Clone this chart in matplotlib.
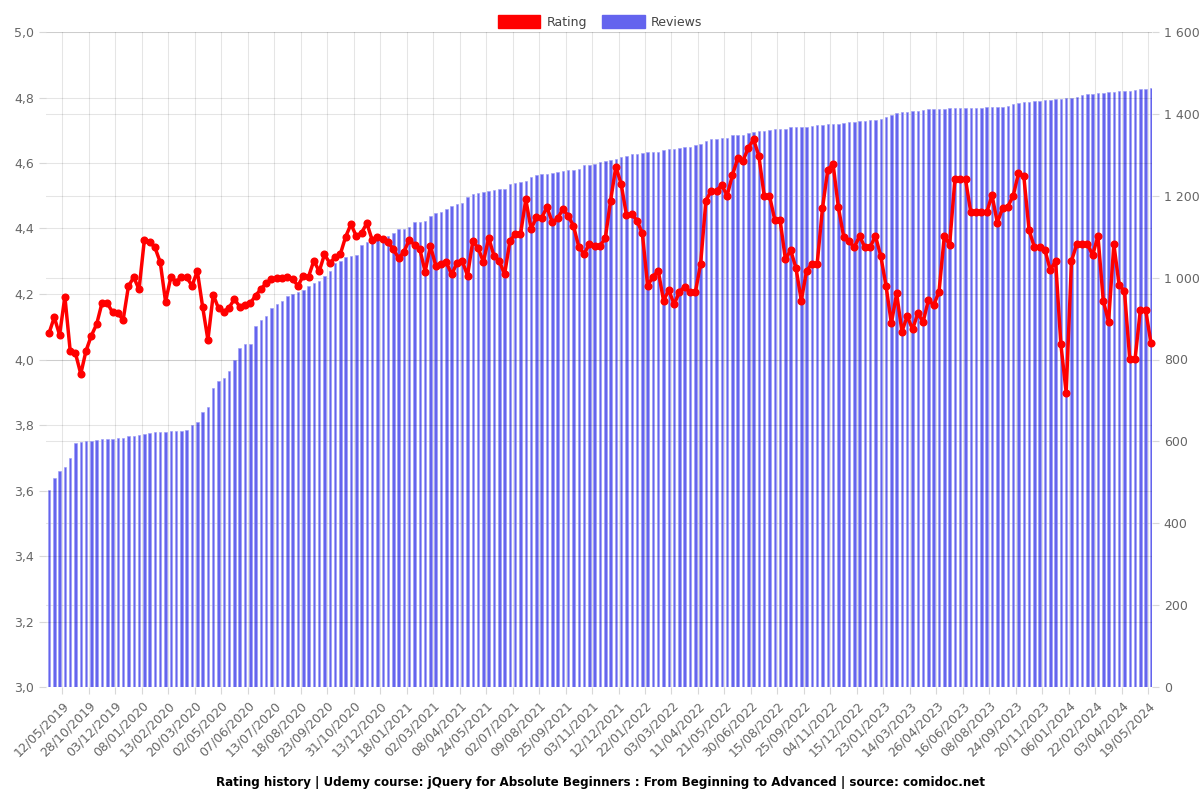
import numpy as np
import matplotlib
matplotlib.use("Agg")
import matplotlib.pyplot as plt
from matplotlib.patches import Patch
from matplotlib.ticker import FuncFormatter, MultipleLocator

# Données (une valeur par semaine environ)
ratings = [
    4.080, 4.129, 4.075, 4.192, 4.027, 4.019, 3.956, 4.027, 4.073, 4.108,
    4.172, 4.172, 4.144, 4.141, 4.121, 4.224, 4.251, 4.214, 4.365, 4.360,
    4.342, 4.297, 4.177, 4.251, 4.238, 4.251, 4.251, 4.225, 4.270, 4.161,
    4.060, 4.198, 4.156, 4.146, 4.158, 4.185, 4.161, 4.167, 4.172, 4.195,
    4.215, 4.233, 4.245, 4.250, 4.250, 4.251, 4.245, 4.225, 4.256, 4.253,
    4.302, 4.269, 4.321, 4.294, 4.312, 4.322, 4.375, 4.413, 4.377, 4.387,
    4.416, 4.365, 4.375, 4.368, 4.358, 4.337, 4.309, 4.329, 4.365, 4.350,
    4.337, 4.268, 4.347, 4.287, 4.292, 4.297, 4.260, 4.294, 4.301, 4.256,
    4.362, 4.340, 4.298, 4.372, 4.316, 4.301, 4.260, 4.362, 4.383, 4.382,
    4.489, 4.398, 4.434, 4.433, 4.465, 4.419, 4.431, 4.459, 4.439, 4.408,
    4.344, 4.322, 4.353, 4.347, 4.347, 4.370, 4.484, 4.589, 4.536, 4.441,
    4.444, 4.424, 4.385, 4.225, 4.253, 4.271, 4.180, 4.212, 4.168, 4.207,
    4.222, 4.205, 4.205, 4.292, 4.485, 4.515, 4.515, 4.533, 4.500, 4.563,
    4.614, 4.607, 4.646, 4.672, 4.621, 4.500, 4.500, 4.426, 4.426, 4.306,
    4.334, 4.279, 4.180, 4.271, 4.292, 4.292, 4.462, 4.579, 4.597, 4.465,
    4.375, 4.362, 4.342, 4.377, 4.343, 4.343, 4.377, 4.316, 4.225, 4.110,
    4.202, 4.085, 4.133, 4.092, 4.141, 4.115, 4.182, 4.166, 4.207, 4.377,
    4.350, 4.550, 4.550, 4.550, 4.449, 4.449, 4.449, 4.449, 4.502, 4.418,
    4.462, 4.467, 4.500, 4.569, 4.560, 4.395, 4.343, 4.343, 4.334, 4.273,
    4.301, 4.046, 3.899, 4.301, 4.352, 4.352, 4.352, 4.319, 4.377, 4.180,
    4.115, 4.352, 4.227, 4.209, 4.001, 4.001, 4.151, 4.151, 4.051,
]

reviews = [
    481, 511, 528, 537, 560, 597, 599, 602, 602, 604,
    606, 606, 606, 609, 609, 612, 614, 615, 618, 621,
    622, 622, 624, 626, 626, 626, 627, 639, 647, 672,
    683, 730, 747, 756, 772, 799, 827, 838, 839, 882,
    896, 907, 925, 935, 944, 955, 960, 966, 970, 980,
    986, 992, 1005, 1017, 1035, 1041, 1050, 1053, 1055, 1080,
    1086, 1089, 1096, 1100, 1102, 1108, 1120, 1120, 1124, 1135,
    1137, 1138, 1151, 1157, 1161, 1167, 1176, 1179, 1182, 1198,
    1204, 1206, 1208, 1212, 1214, 1216, 1217, 1229, 1232, 1234,
    1236, 1246, 1250, 1252, 1254, 1256, 1258, 1260, 1262, 1264,
    1266, 1274, 1276, 1278, 1282, 1285, 1287, 1289, 1294, 1298,
    1302, 1303, 1305, 1306, 1306, 1307, 1311, 1313, 1314, 1316,
    1318, 1320, 1323, 1326, 1334, 1338, 1339, 1340, 1342, 1348,
    1349, 1349, 1353, 1356, 1357, 1358, 1360, 1362, 1363, 1364,
    1367, 1367, 1367, 1367, 1370, 1372, 1373, 1375, 1375, 1376,
    1378, 1380, 1380, 1382, 1383, 1384, 1386, 1388, 1392, 1398,
    1402, 1404, 1405, 1406, 1408, 1410, 1411, 1412, 1413, 1413,
    1414, 1414, 1414, 1414, 1414, 1415, 1415, 1416, 1416, 1416,
    1417, 1420, 1424, 1426, 1428, 1430, 1431, 1432, 1434, 1435,
    1436, 1437, 1438, 1440, 1442, 1446, 1448, 1449, 1450, 1452,
    1453, 1454, 1455, 1456, 1457, 1458, 1460, 1461, 1462,
]

tick_labels = [
    "12/05/2019", "28/10/2019", "03/12/2019", "08/01/2020", "13/02/2020",
    "20/03/2020", "02/05/2020", "07/06/2020", "13/07/2020", "18/08/2020",
    "23/09/2020", "31/10/2020", "13/12/2020", "18/01/2021", "02/03/2021",
    "08/04/2021", "24/05/2021", "02/07/2021", "09/08/2021", "25/09/2021",
    "03/11/2021", "12/12/2021", "22/01/2022", "03/03/2022", "11/04/2022",
    "21/05/2022", "30/06/2022", "15/08/2022", "25/09/2022", "04/11/2022",
    "15/12/2022", "23/01/2023", "14/03/2023", "26/04/2023", "16/06/2023",
    "08/08/2023", "24/09/2023", "20/11/2023", "06/01/2024", "22/02/2024",
    "03/04/2024", "19/05/2024",
]

RED = "#ff0000"
BLUE = "#6464ee"
GRIS = "#666666"

x = np.arange(len(ratings))
tick_pos = np.arange(len(tick_labels)) * 5 + 2.5

fig = plt.figure(figsize=(12, 8), dpi=100)
ax1 = fig.add_axes([0.0383, 0.14125, 0.9217, 0.81875])
ax2 = ax1.twinx()

# barres (axe de droite) derrière la courbe
ax2.bar(x, reviews, width=0.47, color=BLUE, edgecolor="#9a9af5", linewidth=0.4)
ax2.set_ylim(0, 1600)
ax2.yaxis.set_major_locator(MultipleLocator(200))
ax2.yaxis.set_major_formatter(FuncFormatter(lambda v, p: f"{int(v):,}".replace(",", " ")))

ax1.plot(x, ratings, color=RED, linewidth=2.5, marker="o", markersize=4.8, zorder=5, clip_on=False)
ax1.set_ylim(3.0, 5.0)
ax1.yaxis.set_major_locator(MultipleLocator(0.2))
ax1.yaxis.set_major_formatter(FuncFormatter(lambda v, p: f"{v:.1f}".replace(".", ",")))

ax1.set_zorder(ax2.get_zorder() + 1)
ax1.patch.set_visible(False)
ax2.patch.set_visible(True)
ax2.patch.set_facecolor("white")

ax1.set_xlim(-0.57, 208.2)
ax1.set_xticks(tick_pos)
ax1.set_xticklabels(tick_labels, rotation=45, ha="right", rotation_mode="anchor")

for ax in (ax1, ax2):
    for s in ax.spines.values():
        s.set_visible(False)
    ax.tick_params(colors="#d8d8d8", labelcolor=GRIS, labelsize=9, length=5, width=0.8)

ax1.grid(True, color="black", alpha=0.1, linewidth=0.8)
ax2.grid(True, axis="y", color="black", alpha=0.1, linewidth=0.8)
ax2.set_axisbelow(True)

handles = [Patch(facecolor=RED, edgecolor=RED), Patch(facecolor=BLUE, edgecolor=BLUE)]
fig.legend(handles, ["Rating", "Reviews"], loc="upper center", bbox_to_anchor=(0.5, 0.995),
           ncol=2, frameon=False, fontsize=9, handlelength=3.4, handleheight=1.2,
           columnspacing=1.2, handletextpad=0.5, labelcolor="#444444")

fig.text(0.5, 0.022, "Rating history | Udemy course: jQuery for Absolute Beginners : From Beginning to Advanced | source: comidoc.net",
         ha="center", va="center", fontsize=8.6, fontweight="bold")

fig.savefig("out.png", dpi=100)
